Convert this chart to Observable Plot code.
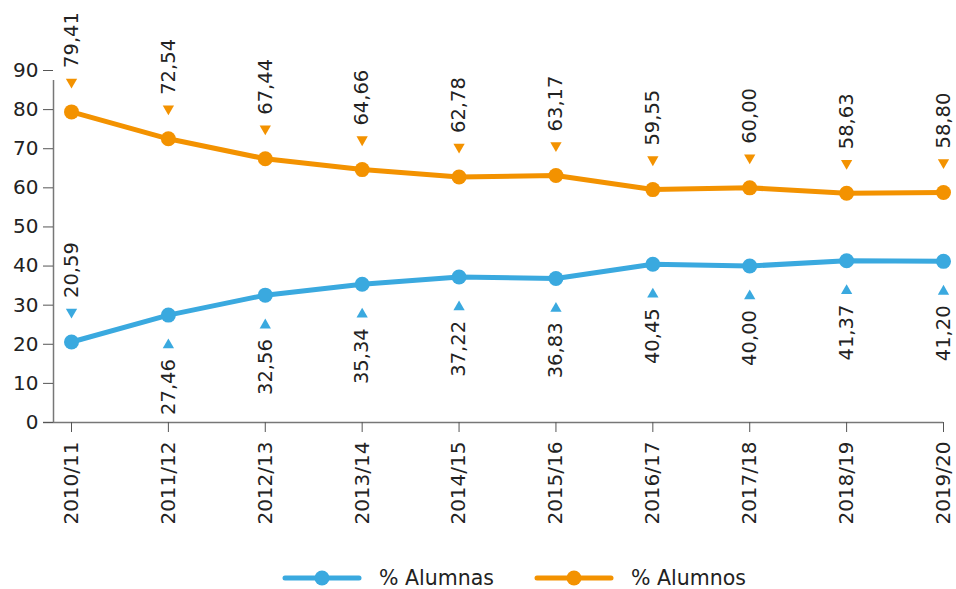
<!DOCTYPE html>
<html>
<head>
<meta charset="utf-8">
<script src="https://cdn.jsdelivr.net/npm/d3@7"></script>
<script src="https://cdn.jsdelivr.net/npm/@observablehq/plot@0.6"></script>
<style>
  html, body { margin: 0; padding: 0; background: #fff; }
  body { width: 956px; font-family: "DejaVu Sans", sans-serif; }
  #legend { display: flex; justify-content: center; align-items: center; height: 46px; padding-top: 12px; font-size: 20.5px; color: #222; padding-left: 72px; box-sizing: content-box; }
  #legend .item { display: flex; align-items: center; margin: 0 20px; }
  #legend svg { margin-right: 17px; }
</style>
</head>
<body>
<div id="chart"></div>
<div id="legend"></div>
<script>
const years = ["2010/11","2011/12","2012/13","2013/14","2014/15","2015/16","2016/17","2017/18","2018/19","2019/20"];
const alumnas = [20.59, 27.46, 32.56, 35.34, 37.22, 36.83, 40.45, 40.00, 41.37, 41.20];
const alumnos = [79.41, 72.54, 67.44, 64.66, 62.78, 63.17, 59.55, 60.00, 58.63, 58.80];
const alumnasSide = ["above","below","below","below","below","below","below","below","below","below"];
const yTicks = [0,10,20,30,40,50,60,70,80,90];

const blue = "#3aa9df";
const orange = "#f39200";
const fmt = v => v.toFixed(2).replace(".", ",");

const rows = [];
years.forEach((y, i) => {
  rows.push({year: y, serie: "% Alumnas", value: alumnas[i], side: alumnasSide[i]});
  rows.push({year: y, serie: "% Alumnos", value: alumnos[i], side: "above"});
});
const above = rows.filter(d => d.side === "above");
const below = rows.filter(d => d.side === "below");
const color = d => d.serie === "% Alumnas" ? blue : orange;

const chart = Plot.plot({
  width: 956,
  height: 543,
  marginLeft: 53,
  marginRight: 13,
  marginTop: 70,
  marginBottom: 121,
  style: {fontFamily: "DejaVu Sans, sans-serif", color: "#222", background: "#fff"},
  x: {type: "point", domain: years, padding: 0, round: false, insetLeft: 18, label: null},
  y: {domain: [0, 90], label: null},
  marks: [
    Plot.ruleY([0], {stroke: "#777", strokeWidth: 1.5, insetLeft: -10}),
    Plot.ruleX([years[0]], {y1: 0, y2: 90, dx: -18, stroke: "#777", strokeWidth: 1.5, insetBottom: -10}),
    Plot.axisY({ticks: yTicks, tickSize: 10, tickPadding: 5, fontSize: 20, stroke: "#555", fill: "#222", label: null}),
    Plot.axisX({tickSize: 10, tickPadding: 9, tickRotate: -90, fontSize: 20, stroke: "#555", fill: "#222", label: null}),
    Plot.line(rows, {x: "year", y: "value", z: "serie", stroke: color, strokeWidth: 5}),
    Plot.dot(rows, {x: "year", y: "value", fill: color, r: 7.5, stroke: null}),
    Plot.dot(above, {x: "year", y: "value", dy: -30, symbol: "triangle", rotate: 180, r: 4.2, fill: color, stroke: null}),
    Plot.dot(below, {x: "year", y: "value", dy: 30, symbol: "triangle", r: 4.2, fill: color, stroke: null}),
    Plot.text(above, {x: "year", y: "value", text: d => fmt(d.value), dy: -44, rotate: -90, textAnchor: "start", fontSize: 19.5, fill: "#222"}),
    Plot.text(below, {x: "year", y: "value", text: d => fmt(d.value), dy: 44, rotate: -90, textAnchor: "end", fontSize: 19.5, fill: "#222"})
  ]
});
document.getElementById("chart").appendChild(chart);

const legend = document.getElementById("legend");
[["% Alumnas", blue], ["% Alumnos", orange]].forEach(([name, c]) => {
  const item = document.createElement("div");
  item.className = "item";
  item.innerHTML = `<svg width="80" height="18"><line x1="3" x2="77" y1="9" y2="9" stroke="${c}" stroke-width="5" stroke-linecap="round"/><circle cx="40" cy="9" r="7.5" fill="${c}"/></svg><span>${name}</span>`;
  legend.appendChild(item);
});
</script>
</body>
</html>
